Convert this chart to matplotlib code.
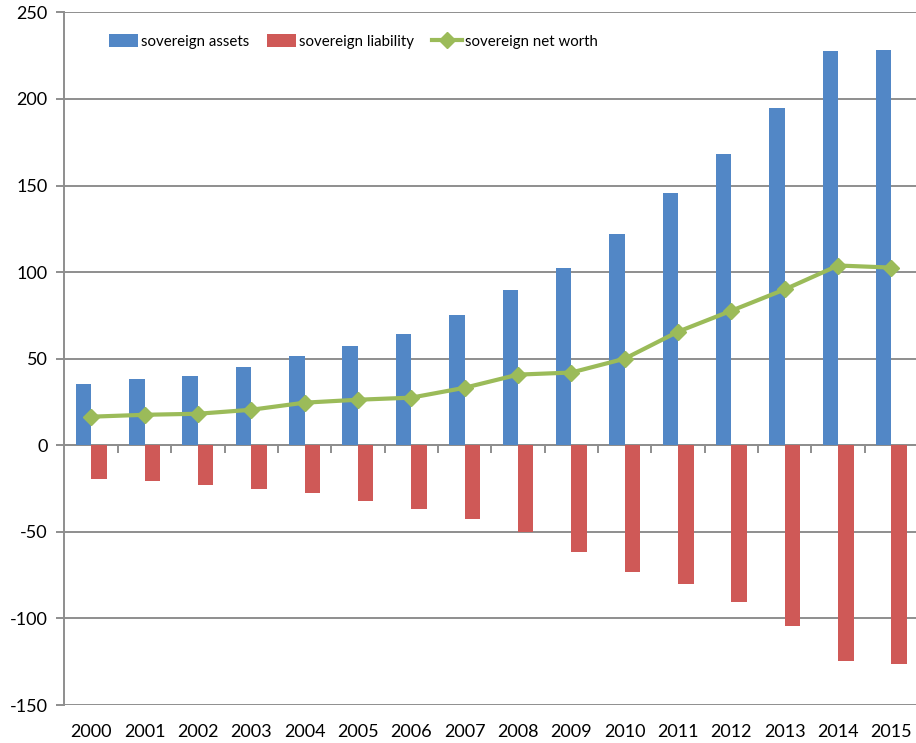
import matplotlib
matplotlib.use("Agg")
import matplotlib.pyplot as plt
import numpy as np

years = ["2000", "2001", "2002", "2003", "2004", "2005", "2006", "2007",
         "2008", "2009", "2010", "2011", "2012", "2013", "2014", "2015"]
assets = [35.5, 38, 40, 45, 51.7, 57.5, 64, 75.4,
          89.5, 102.5, 122, 145.5, 168, 194.5, 227.5, 228.5]
liability = [-19.4, -20.5, -22.8, -25, -27.5, -32, -36.7, -42.5,
             -50, -61.6, -73, -80, -90.5, -104.5, -124.5, -126.5]
net_worth = [16.5, 17.6, 18.2, 20.5, 24.6, 26.3, 27.5, 33.2,
             40.8, 42, 50, 65.6, 77.7, 90, 103.8, 102.6]

plt.rcParams["font.family"] = ["Lato", "DejaVu Sans"]
plt.rcParams["axes.unicode_minus"] = False

BLUE = "#5287C6"
RED = "#CF5957"
GREEN = "#9BBB59"
GRID = "#8E8E8E"

fig = plt.figure(figsize=(9.16, 7.43), dpi=100)
ax = fig.add_axes([0.0704, 0.0511, 0.9296, 0.9323])

x = np.arange(len(years))
w = 0.29
ax.bar(x - w / 2, assets, width=w, color=BLUE, label="sovereign assets", zorder=3)
ax.bar(x + w / 2, liability, width=w, color=RED, label="sovereign liability", zorder=3)
ax.plot(x, net_worth, color=GREEN, lw=3, marker="D", ms=8, label="sovereign net worth", zorder=4)

ymin, ymax = -150, 250
ax.set_ylim(ymin, ymax)
ax.set_xlim(-0.5, 15.46)
ax.set_yticks(np.arange(-150, 251, 50))
ax.yaxis.grid(True, color=GRID, lw=1.4, zorder=0)
ax.set_axisbelow(True)

for s in ["top", "right", "bottom"]:
    ax.spines[s].set_visible(False)
ax.spines["left"].set_color(GRID)
ax.spines["left"].set_linewidth(1.4)

ax.set_xticks(x)
ax.set_xticklabels(years)
ax.tick_params(axis="x", length=0, pad=14, labelsize=13)
ax.tick_params(axis="y", length=6, width=1.4, color=GRID, pad=6, labelsize=13)

# horizontal axis line at zero with category-boundary ticks
ax.axhline(0, color=GRID, lw=1.4, zorder=2)
sec = ax.secondary_xaxis((0 - ymin) / (ymax - ymin))
sec.set_xticks(np.arange(0.5, len(years) - 0.5, 1))
sec.set_xticklabels([])
sec.tick_params(length=6, width=1.4, color=GRID, direction="out")
sec.spines["bottom"].set_visible(False)

h, l = ax.get_legend_handles_labels()
order = [l.index("sovereign assets"), l.index("sovereign liability"), l.index("sovereign net worth")]
ax.legend([h[i] for i in order], [l[i] for i in order],
          loc="upper left", bbox_to_anchor=(0.036, 0.988), ncol=3, frameon=False,
          fontsize=10.8, handlelength=1.95, handleheight=0.9, handletextpad=0.2,
          columnspacing=1.2)

fig.savefig("out.png", dpi=100)
